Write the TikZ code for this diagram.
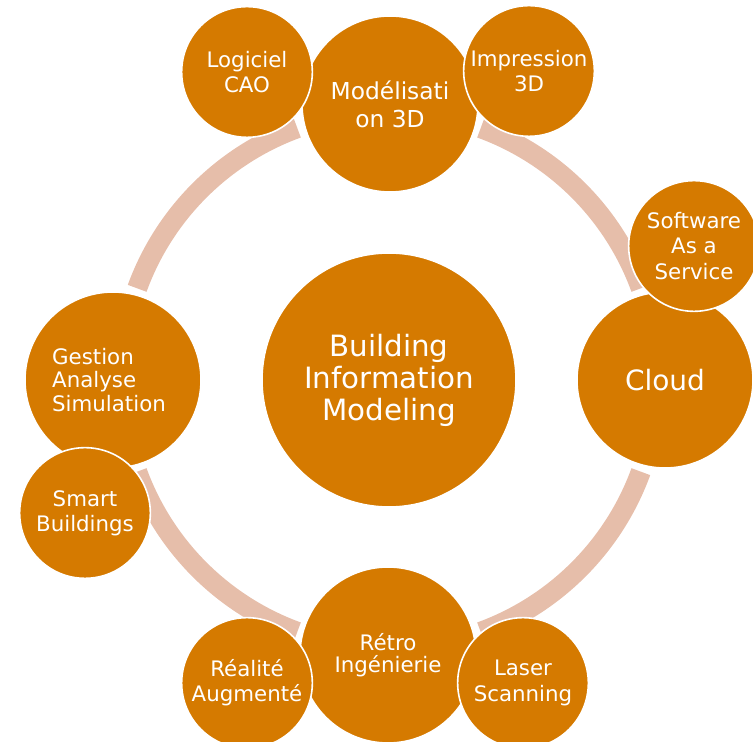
\documentclass[tikz,border=0pt]{standalone}
\usepackage{fontspec}
\setmainfont{DejaVu Sans}
\usepackage{xcolor}
\usetikzlibrary{positioning}
\definecolor{bimorange}{RGB}{213,122,0}
\definecolor{bimring}{RGB}{230,190,170}
\tikzset{ringarc/.style={draw=bimring, line width=15pt}}
\tikzset{dcirc/.style={circle, fill=bimorange, draw=white, line width=1.2pt, text=white, align=center, inner sep=0pt}}
\tikzset{bigc/.style={dcirc, minimum size=190.5pt, font=\fontsize{22}{24}\selectfont}}
\tikzset{mainc/.style={dcirc, minimum size=132pt}}
\tikzset{subc/.style={dcirc, minimum size=98pt, font=\fontsize{16}{19}\selectfont}}

\begin{document}
\begin{tikzpicture}[x=0.75pt, y=0.75pt]
	\useasboundingbox (0,0) rectangle (753,742);
	\coordinate (ctr) at (389,362);
	% ring pieces between the main circles
	\foreach \a in {20,110,200,290}
		\draw[ringarc] (ctr) ++(\a:201pt) arc[start angle=\a, delta angle=50, radius=201pt];

	\node[bigc] (bim) at (ctr) {Building\\Information\\Modeling};
	\node[mainc, font=\fontsize{17.5}{21}\selectfont] (model) at (390,638) {Modélisati\\on 3D};
	\node[mainc, font=\fontsize{21}{24}\selectfont] (cloud) at (665,362) {Cloud};
	\node[mainc, font=\fontsize{16}{16.5}\selectfont] (retro) at (388,87) {Rétro\\Ingénierie};
	\node[mainc, font=\fontsize{16}{17.5}\selectfont, align=left] (gestion) at (113,362)
		{Gestion\\Analyse\\Simulation\hspace*{6pt}};

	% small circles on top of the main ones
	\node[subc] (cao) at (247,670) {Logiciel\\CAO};
	\node[subc] (impr) at (529,671) {Impression\\3D};
	\node[subc] (saas) at (694,496) {Software\\As a\\Service};
	\node[subc] (smart) at (85,229) {Smart\\Buildings};
	\node[subc] (realite) at (247,59) {Réalité\\Augmenté};
	\node[subc] (laser) at (523,59) {Laser\\Scanning};
\end{tikzpicture}
\end{document}
